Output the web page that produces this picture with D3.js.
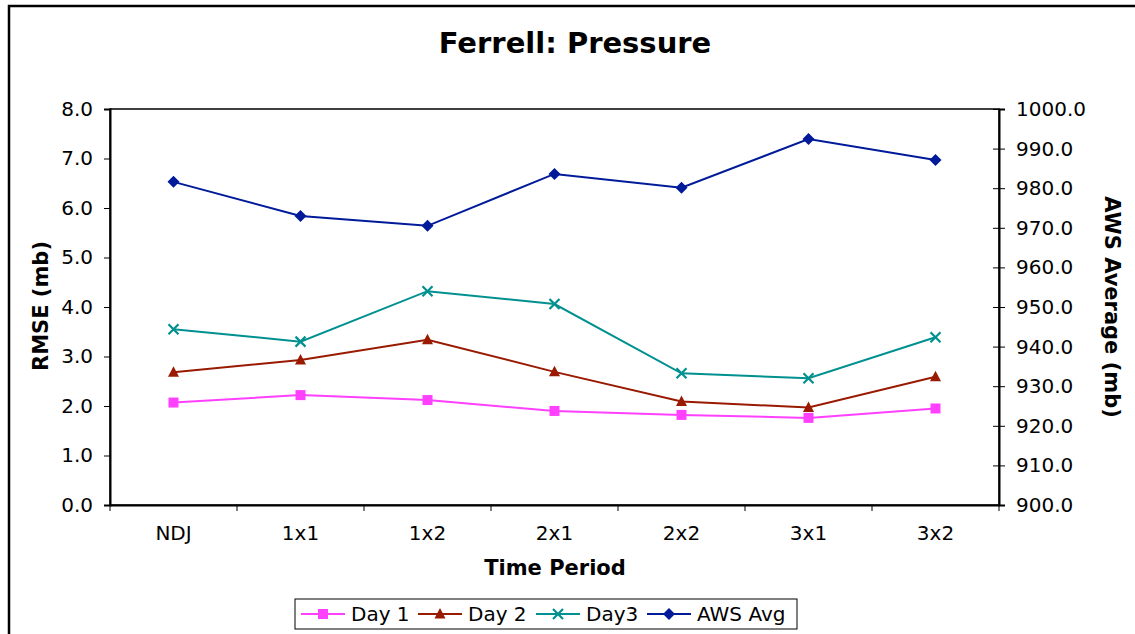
<!DOCTYPE html>
<html><head><meta charset="utf-8">
<script src="https://cdn.jsdelivr.net/npm/d3@7"></script>
<style>body{margin:0;background:#fff}svg{display:block}text{font-family:"DejaVu Sans",Verdana,sans-serif}</style>
</head><body>
<svg id="c" width="1135" height="634"></svg>
<script>
const categories = ["NDJ","1x1","1x2","2x1","2x2","3x1","3x2"];
const day1 = [2.07,2.22,2.12,1.90,1.82,1.76,1.95];
const day2 = [2.68,2.93,3.34,2.69,2.09,1.97,2.59];
const day3 = [3.55,3.30,4.32,4.06,2.66,2.56,3.39];
const awsAvg = [981.6,973.0,970.5,983.6,980.1,992.4,987.1];
const leftTicks = [0,1,2,3,4,5,6,7,8];
const rightTicks = [900,910,920,930,940,950,960,970,980,990,1000];

const svg = d3.select("#c");
const L = 110, R = 999, T = 109, B = 505;
const FF = "DejaVu Sans, Verdana, sans-serif";
svg.append("rect").attr("x",9).attr("y",6).attr("width",1140).attr("height",640)
  .attr("fill","none").attr("stroke","#000").attr("stroke-width",2.5);

const x = d3.scaleBand().domain(categories).range([L,R]);
const yL = d3.scaleLinear().domain([0,8]).range([B,T]);
const yR = d3.scaleLinear().domain([900,1000]).range([B,T]);

svg.append("rect").attr("x",L).attr("y",T).attr("width",R-L).attr("height",B-T)
  .attr("fill","none").attr("stroke","#000").attr("stroke-width",1.5);

const gl = svg.append("g").attr("transform",`translate(${L},0)`)
  .call(d3.axisLeft(yL).tickValues(leftTicks).tickFormat(d3.format(".1f")).tickSize(6).tickPadding(11));
gl.select(".domain").attr("stroke-width",2);
gl.selectAll("text").attr("font-size",20).attr("fill","#000").attr("font-family",FF);

const gr = svg.append("g").attr("transform",`translate(${R},0)`)
  .call(d3.axisRight(yR).tickValues(rightTicks).tickFormat(d3.format(".1f")).tickSize(6).tickPadding(11));
gr.select(".domain").attr("stroke-width",2);
gr.selectAll(".tick line").attr("x1",-6);
gr.selectAll("text").attr("font-size",20).attr("fill","#000").attr("font-family",FF);

const gb = svg.append("g").attr("transform",`translate(0,${B})`)
  .call(d3.axisBottom(x).tickSize(0).tickPadding(21));
gb.select(".domain").attr("stroke-width",2);
gb.selectAll("text").attr("font-size",20).attr("fill","#000").attr("font-family",FF);
const bounds = categories.map(c => x(c)).concat([R]);
svg.append("g").selectAll("line").data(bounds).join("line")
  .attr("x1",d=>d).attr("x2",d=>d).attr("y1",B).attr("y2",B+6).attr("stroke","#000");

svg.append("text").attr("x",575).attr("y",53).attr("text-anchor","middle")
  .attr("font-size",29).attr("font-weight","bold").text("Ferrell: Pressure");
svg.append("text").attr("x",555).attr("y",575).attr("text-anchor","middle")
  .attr("font-size",21).attr("font-weight","bold").text("Time Period");
svg.append("text").attr("transform","translate(48,306) rotate(-90)").attr("text-anchor","middle")
  .attr("font-size",21).attr("font-weight","bold").text("RMSE (mb)");
svg.append("text").attr("transform","translate(1105,307) rotate(90)").attr("text-anchor","middle")
  .attr("font-size",21).attr("font-weight","bold").text("AWS Average (mb)");

const cx = c => x(c) + x.bandwidth()/2;
const series = [
  {name:"Day 1", vals:day1, y:yL, color:"#ff40ff", sym:"square"},
  {name:"Day 2", vals:day2, y:yL, color:"#991a00", sym:"triangle"},
  {name:"Day3", vals:day3, y:yL, color:"#009090", sym:"x"},
  {name:"AWS Avg", vals:awsAvg, y:yR, color:"#001a99", sym:"diamond"}
];
function marker(g, sym, color){
  if(sym==="square") g.append("rect").attr("x",-5).attr("y",-5).attr("width",10).attr("height",10).attr("fill",color);
  else if(sym==="triangle") g.append("path").attr("d","M0,-6L5.5,4.5L-5.5,4.5Z").attr("fill",color);
  else if(sym==="diamond") g.append("path").attr("d","M0,-6L6,0L0,6L-6,0Z").attr("fill",color);
  else g.append("path").attr("d","M-5,-5L5,5M-5,5L5,-5").attr("stroke",color).attr("stroke-width",2.2).attr("fill","none");
}
series.forEach(s=>{
  const line = d3.line().x((d,i)=>cx(categories[i])).y(d=>s.y(d));
  svg.append("path").attr("d",line(s.vals)).attr("fill","none").attr("stroke",s.color).attr("stroke-width",2);
  s.vals.forEach((v,i)=>{
    const g = svg.append("g").attr("transform",`translate(${cx(categories[i])},${s.y(v)})`);
    marker(g,s.sym,s.color);
  });
});

svg.append("rect").attr("x",295).attr("y",599).attr("width",502).attr("height",30)
  .attr("fill","#fff").attr("stroke","#000").attr("stroke-width",1);
const lx = [301,418,536,647];
series.forEach((s,i)=>{
  svg.append("line").attr("x1",lx[i]).attr("x2",lx[i]+44).attr("y1",614).attr("y2",614)
    .attr("stroke",s.color).attr("stroke-width",2);
  const g = svg.append("g").attr("transform",`translate(${lx[i]+22},614)`);
  marker(g,s.sym,s.color);
  svg.append("text").attr("x",lx[i]+50).attr("y",621).attr("font-size",20).text(s.name);
});
</script>
</body></html>
